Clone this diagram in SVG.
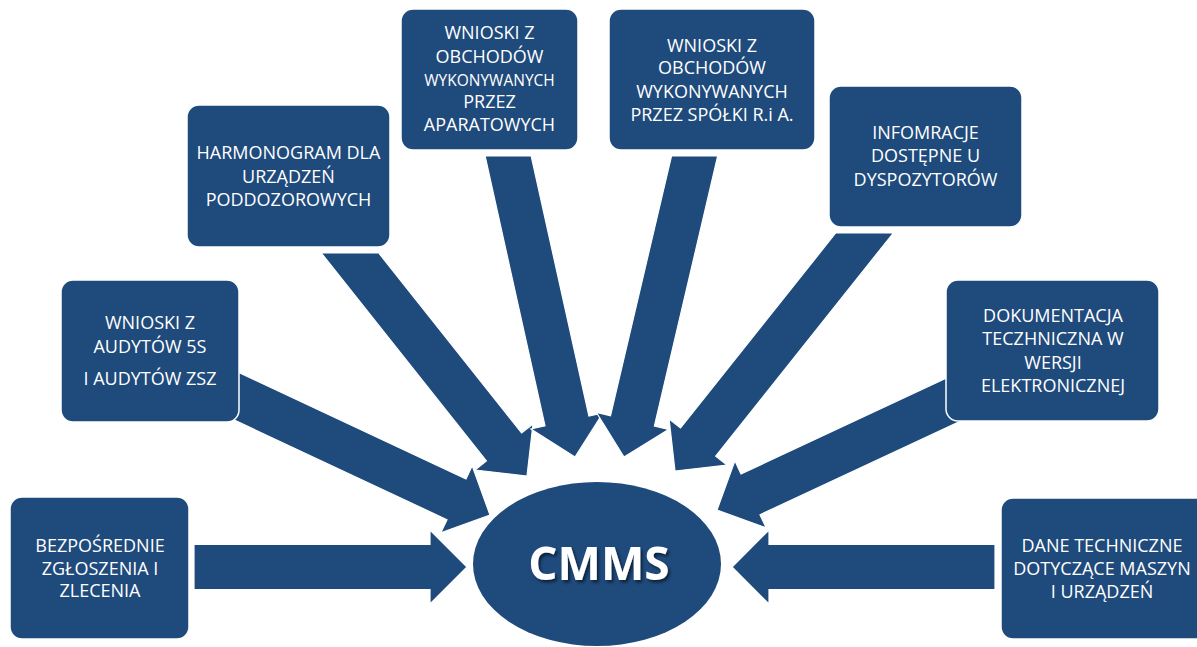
<svg xmlns="http://www.w3.org/2000/svg" width="1197" height="647" viewBox="0 0 1197 647">
<defs>
<style>
.box{fill:#1f4a7c;stroke:#ffffff;stroke-width:1.5}
.arr{fill:#1f4a7c;stroke:#ffffff;stroke-width:1.2;stroke-linejoin:miter}
.t{font-family:"Open Sans","Liberation Sans",sans-serif;font-size:18px;fill:#ffffff;text-anchor:middle}
.s{font-size:15.5px}
.big{font-family:"Open Sans","Liberation Sans",sans-serif;font-size:46px;font-weight:700;fill:#ffffff;text-anchor:middle}
</style>
<filter id="sh" x="-20%" y="-20%" width="140%" height="140%">
<feDropShadow dx="2" dy="2.5" stdDeviation="1.5" flood-color="#000000" flood-opacity="0.55"/>
</filter>
</defs>
<rect width="1197" height="647" fill="#ffffff"/>
<g id="connectors">
<polygon class="arr" points="467,567 430,530 430,544.5 194,544.5 194,589.5 430,589.5 430,604"/>
<polygon class="arr" points="490,515 472.2,465.8 466,478.9 209.5,358.8 190.5,399.6 447,519.7 440.8,532.8"/>
<polygon class="arr" points="527,476 533,424 521.6,433 378.7,253 321.3,253 486.4,461 475,470"/>
<polygon class="arr" points="575,457 603.1,412.9 588.9,416 531.2,156 485.1,156 545,425.8 530.9,428.9"/>
<polygon class="arr" points="624,457 596.4,412.5 610.5,415.8 671.5,156 717.7,156 654.4,426.1 668.5,429.4"/>
<polygon class="arr" points="675,471 669.1,419 680.5,428 835.7,233 893.3,233 715.7,456.1 727,465.1"/>
<polygon class="arr" points="717,510 734.9,460.8 741,474 990.5,357.5 1009.5,398.2 760,514.7 766.2,527.9"/>
<polygon class="arr" points="732,567 769,530 769,544.5 995,544.5 995,589.5 769,589.5 769,604"/>
</g>
<g id="n1">
<rect class="box" x="10" y="497" width="179" height="142" rx="12"/>
<text class="t" x="100" y="552">BEZPOŚREDNIE</text>
<text class="t" x="100" y="575">ZGŁOSZENIA I</text>
<text class="t" x="100" y="597">ZLECENIA</text>
</g>
<g id="n2">
<rect class="box" x="61" y="280" width="178" height="142" rx="12"/>
<text class="t" x="150" y="329">WNIOSKI Z</text>
<text class="t" x="150" y="352.5">AUDYTÓW 5S</text>
<text class="t" x="150" y="385">I AUDYTÓW ZSZ</text>
</g>
<g id="n3">
<rect class="box" x="187" y="105" width="203" height="142" rx="12"/>
<text class="t" x="288.5" y="159">HARMONOGRAM DLA</text>
<text class="t" x="288.5" y="182.5">URZĄDZEŃ</text>
<text class="t" x="288.5" y="206">PODDOZOROWYCH</text>
</g>
<g id="n4">
<rect class="box" x="401" y="9" width="177" height="141" rx="12"/>
<text class="t" x="489.5" y="39">WNIOSKI Z</text>
<text class="t" x="489.5" y="63">OBCHODÓW</text>
<text class="t s" x="489.5" y="85.5">WYKONYWANYCH</text>
<text class="t" x="489.5" y="108">PRZEZ</text>
<text class="t" x="489.5" y="130.5">APARATOWYCH</text>
</g>
<g id="n5">
<rect class="box" x="609" y="9" width="206" height="141" rx="12"/>
<text class="t" x="712" y="51.5">WNIOSKI Z</text>
<text class="t" x="712" y="74">OBCHODÓW</text>
<text class="t" x="712" y="97.5">WYKONYWANYCH</text>
<text class="t" x="712" y="120.5">PRZEZ SPÓŁKI R.i A.</text>
</g>
<g id="n6">
<rect class="box" x="829" y="86" width="193" height="141" rx="12"/>
<text class="t" x="925.5" y="139">INFOMRACJE</text>
<text class="t" x="925.5" y="162">DOSTĘPNE U</text>
<text class="t" x="925.5" y="186">DYSPOZYTORÓW</text>
</g>
<g id="n7">
<rect class="box" x="946" y="280" width="213" height="141" rx="12"/>
<text class="t" x="1053" y="322">DOKUMENTACJA</text>
<text class="t" x="1053" y="345">TECZHNICZNA W</text>
<text class="t" x="1053" y="368.5">WERSJI</text>
<text class="t" x="1053" y="391.5">ELEKTRONICZNEJ</text>
</g>
<g id="n8">
<rect class="box" x="1001" y="498" width="215" height="141" rx="12"/>
<text class="t" x="1102" y="551.5">DANE TECHNICZNE</text>
<text class="t" x="1102" y="575">DOTYCZĄCE MASZYN</text>
<text class="t" x="1102" y="597.5">I URZĄDZEŃ</text>
</g>
<g id="cmms">
<ellipse cx="597" cy="564" rx="124" ry="82" fill="#1f4a7c"/>
<text class="big" x="599" y="580" filter="url(#sh)">CMMS</text>
</g>
</svg>
